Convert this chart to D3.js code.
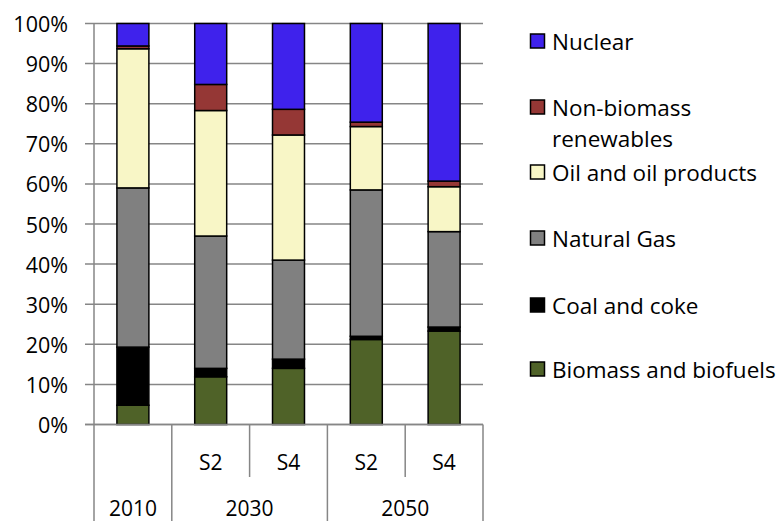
<!DOCTYPE html>
<html>
<head>
<meta charset="utf-8">
<script src="https://cdn.jsdelivr.net/npm/d3@7"></script>
<style>
  body { margin: 0; background: #fff; }
  svg text { font-family: "Open Sans", "Noto Sans", sans-serif; fill: #000; }
</style>
</head>
<body>
<div id="chart"></div>
<script>
// categories (bottom labels)
var keys = ["2010", "2030 S2", "2030 S4", "2050 S2", "2050 S4"];
var subLabels = ["", "S2", "S4", "S2", "S4"];
var groups = [
  { label: "2010", from: 0, to: 1 },
  { label: "2030", from: 1, to: 3 },
  { label: "2050", from: 3, to: 5 }
];

// shares in percent, stacked bottom to top
var biomass     = [4.8, 11.9, 14.0, 21.2, 23.3];
var coal        = [14.5, 2.1, 2.3, 0.8, 1.0];
var gas         = [39.7, 33.0, 24.7, 36.5, 23.8];
var oil         = [34.7, 31.3, 31.2, 15.8, 11.2];
var renewables  = [0.7, 6.5, 6.4, 1.1, 1.4];
var nuclear     = [5.6, 15.2, 21.4, 24.6, 39.3];

var seriesNames = ["Biomass and biofuels", "Coal and coke", "Natural Gas",
                   "Oil and oil products", "Non-biomass renewables", "Nuclear"];
var seriesValues = [biomass, coal, gas, oil, renewables, nuclear];
var colors = ["#4f6228", "#000000", "#808080", "#f8f6c6", "#953735", "#3f22ec"];

var yTicks = [0, 10, 20, 30, 40, 50, 60, 70, 80, 90, 100];

var width = 781, height = 521,
    plotLeft = 94, plotRight = 483, plotTop = 23.5, plotBottom = 424.5;

var rows = keys.map(function(k, i) {
  var r = { key: k };
  seriesNames.forEach(function(s, j) { r[s] = seriesValues[j][i]; });
  return r;
});

var stack = d3.stack().keys(seriesNames).offset(d3.stackOffsetExpand);
var stacked = stack(rows);

var svg = d3.select("#chart").append("svg")
    .attr("width", width)
    .attr("height", height);

var x = d3.scaleBand()
    .domain(keys)
    .range([plotLeft, plotRight])
    .paddingInner(0.589)
    .paddingOuter(0.2945);

var y = d3.scaleLinear()
    .domain([0, 1])
    .range([plotBottom, plotTop]);

// gridlines
svg.append("g")
    .selectAll("line")
    .data(yTicks)
    .enter().append("line")
      .attr("x1", plotLeft - 9)
      .attr("x2", plotRight)
      .attr("y1", function(d) { return y(d / 100); })
      .attr("y2", function(d) { return y(d / 100); })
      .style("stroke", "#868686")
      .style("stroke-width", 1.5);

// y axis line
svg.append("line")
    .attr("x1", plotLeft).attr("x2", plotLeft)
    .attr("y1", plotTop).attr("y2", plotBottom)
    .style("stroke", "#868686")
    .style("stroke-width", 1.5);

// y labels
svg.append("g")
    .selectAll("text")
    .data(yTicks)
    .enter().append("text")
      .attr("x", 68)
      .attr("y", function(d) { return y(d / 100); })
      .attr("text-anchor", "end")
      .attr("dominant-baseline", "central")
      .style("font-size", "21.5px")
      .text(function(d) { return d + "%"; });

// bars
svg.append("g")
    .selectAll("g")
    .data(stacked)
    .enter().append("g")
      .style("fill", function(d, i) { return colors[i]; })
    .selectAll("rect")
    .data(function(d) { return d; })
    .enter().append("rect")
      .attr("x", function(d) { return x(d.data.key); })
      .attr("y", function(d) { return y(d[1]); })
      .attr("width", x.bandwidth())
      .attr("height", function(d) { return y(d[0]) - y(d[1]); })
      .style("stroke", "#000")
      .style("stroke-width", 1.5);

// redraw baseline over bar bottoms
svg.append("line")
    .attr("x1", plotLeft - 9).attr("x2", plotRight)
    .attr("y1", plotBottom).attr("y2", plotBottom)
    .style("stroke", "#868686")
    .style("stroke-width", 1.5);

// category separators
var gap = (x.step() - x.bandwidth()) / 2;
var edges = keys.map(function(k) { return x(k) - gap; });
edges.push(plotRight);
var groupEdges = [0];
groups.forEach(function(g) { groupEdges.push(g.to); });

svg.append("g")
    .selectAll("line")
    .data(edges)
    .enter().append("line")
      .attr("x1", function(d) { return d; })
      .attr("x2", function(d) { return d; })
      .attr("y1", plotBottom)
      .attr("y2", function(d, i) { return groupEdges.indexOf(i) >= 0 ? height : 477; })
      .style("stroke", "#868686")
      .style("stroke-width", 1.5);

// sub labels
svg.append("g")
    .selectAll("text")
    .data(keys)
    .enter().append("text")
      .attr("x", function(d) { return x(d) + x.bandwidth() / 2; })
      .attr("y", 462)
      .attr("text-anchor", "middle")
      .attr("dominant-baseline", "central")
      .style("font-size", "21px")
      .text(function(d, i) { return subLabels[i]; });

// group labels
svg.append("g")
    .selectAll("text")
    .data(groups)
    .enter().append("text")
      .attr("x", function(d) { return (edges[d.from] + edges[d.to]) / 2; })
      .attr("y", 508)
      .attr("text-anchor", "middle")
      .attr("dominant-baseline", "central")
      .style("font-size", "21px")
      .text(function(d) { return d.label; });

// legend, top to bottom
var legendItems = [
  { name: ["Nuclear"], color: colors[5], y: 41 },
  { name: ["Non-biomass", "renewables"], color: colors[4], y: 107 },
  { name: ["Oil and oil products"], color: colors[3], y: 172 },
  { name: ["Natural Gas"], color: colors[2], y: 238 },
  { name: ["Coal and coke"], color: colors[1], y: 305 },
  { name: ["Biomass and biofuels"], color: colors[0], y: 369 }
];

var legend = svg.append("g")
    .selectAll("g")
    .data(legendItems)
    .enter().append("g")
      .attr("transform", function(d) { return "translate(530," + d.y + ")"; });

legend.append("rect")
    .attr("x", 0.5)
    .attr("y", -7)
    .attr("width", 14)
    .attr("height", 14)
    .style("fill", function(d) { return d.color; })
    .style("stroke", "#000")
    .style("stroke-width", 1.5);

legend.append("text")
    .style("font-size", "22.5px")
    .selectAll("tspan")
    .data(function(d) { return d.name; })
    .enter().append("tspan")
      .attr("x", 22)
      .attr("y", function(d, i) { return i * 31; })
      .attr("dominant-baseline", "central")
      .text(function(d) { return d; });
</script>
</body>
</html>
